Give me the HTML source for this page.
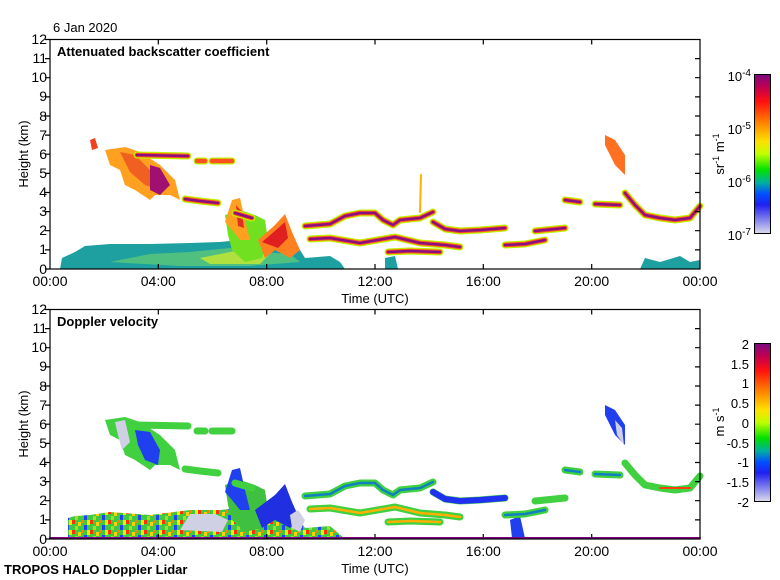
<!DOCTYPE html>
<html><head><meta charset="utf-8"><style>
body{margin:0;background:#fff}
svg{display:block;font-family:"Liberation Sans",sans-serif}
</style></head><body>
<svg width="780" height="580" viewBox="0 0 780 580" xmlns="http://www.w3.org/2000/svg">
<defs>
<linearGradient id="cb1" x1="0" y1="0" x2="0" y2="1">
<stop offset="0" stop-color="#7a0a80"/><stop offset="0.08" stop-color="#c00050"/><stop offset="0.17" stop-color="#ff1010"/>
<stop offset="0.3" stop-color="#ff8000"/><stop offset="0.42" stop-color="#ffe000"/><stop offset="0.5" stop-color="#c0ff00"/>
<stop offset="0.6" stop-color="#00e000"/><stop offset="0.68" stop-color="#00b0a0"/><stop offset="0.75" stop-color="#0050ff"/>
<stop offset="0.82" stop-color="#2020f0"/><stop offset="1" stop-color="#dcdcec"/></linearGradient>
<pattern id="spk" width="18" height="10" patternUnits="userSpaceOnUse">
<rect width="18" height="10" fill="#40c840"/><rect x="0" y="0" width="3" height="4" fill="#ff3000"/>
<rect x="6" y="2" width="3" height="4" fill="#ffd000"/><rect x="12" y="5" width="3" height="5" fill="#2040ff"/>
<rect x="3" y="6" width="3" height="4" fill="#a0e020"/><rect x="9" y="0" width="3" height="3" fill="#ff8000"/>
<rect x="15" y="0" width="3" height="5" fill="#f0f000"/></pattern>
<path id="L1" d="M137,155 L188,156"/>
<path id="L2" d="M185,199 L200,201 L218,203"/>
<path id="L3" d="M235,213 L252,218"/>
<path id="L4" d="M310,239 L330,238 L360,243 L395,237 L420,243 L445,245 L460,247"/>
<path id="L5" d="M305,226 L330,224 L345,216 L360,213 L375,213 L383,220 L393,225 L400,220 L420,218 L433,212"/>
<path id="L6" d="M433,222 L445,229 L460,231 L480,230 L505,228"/>
<path id="L7" d="M388,252 L410,251 L440,252"/>
<path id="L8" d="M505,245 L525,244 L545,240"/>
<path id="L9" d="M535,231 L565,228"/>
<path id="L10" d="M565,200 L580,202 M595,204 L620,205"/>
<path id="L11" d="M625,193 L635,205 L645,215 L660,218 L675,220 L690,218 L700,206"/>
<path id="L12" d="M197,161 L205,161 M212,161 L232,161"/>
</defs>

<text x="53" y="32" font-size="13">6 Jan 2020</text>

<!-- TOP PANEL DATA -->
<g fill="none" stroke-linejoin="round" stroke-linecap="round">
<polygon points="60,269 62,258 75,252 85,246 110,244 150,244 190,243 220,242 240,240 270,243 290,246 300,250 305,258 330,256 340,262 345,269" fill="#1ea0a0" stroke="none"/>
<polygon points="110,262 150,254 190,252 230,248 260,252 290,254 300,262 250,266 180,266" fill="#50c080" stroke="none"/>
<polygon points="200,258 240,250 270,254 260,264 210,264" fill="#b0e040" stroke="none"/>
<polygon points="225,215 240,210 255,215 265,220 268,240 262,258 245,262 232,250 228,235" fill="#70e020" stroke="none"/>
<polygon points="258,240 275,225 285,214 292,232 300,250 290,258 275,250 265,258" fill="#ff8020" stroke="none"/>
<polygon points="262,242 276,230 285,222 288,238 278,248" fill="#e02020" stroke="none"/>
<polygon points="232,200 240,198 245,220 250,240 240,240 232,230 225,222" fill="#ffa020" stroke="none"/>
<polygon points="236,205 242,212 244,228 238,226" fill="#e03020" stroke="none"/>
<polygon points="105,150 125,147 140,152 160,165 175,180 180,200 170,195 155,195 150,200 135,190 125,185 120,170 110,165" fill="#ffa020" stroke="none"/>
<polygon points="120,152 135,155 150,170 165,180 160,190 145,185 130,172" fill="#f06020" stroke="none"/>
<polygon points="150,165 160,168 170,185 160,195 150,190" fill="#a01070" stroke="none"/>
<polygon points="90,140 95,138 98,148 92,150" fill="#f04020" stroke="none"/>
<polygon points="605,135 615,140 625,155 625,175 615,165 605,145" fill="#ff7020" stroke="none"/>
<polygon points="385,258 395,256 398,269 385,269" fill="#1ea0a0" stroke="none"/>
<polygon points="640,269 645,258 660,262 680,256 690,262 700,260 700,269" fill="#1ea0a0" stroke="none"/>
<g stroke="#c0f000" stroke-width="7"><use href="#L1"/><use href="#L2"/><use href="#L3"/><use href="#L4"/><use href="#L5"/><use href="#L6"/><use href="#L7"/><use href="#L8"/><use href="#L9"/><use href="#L10"/><use href="#L11"/><use href="#L12"/></g>
<g stroke="#ff5020" stroke-width="4.5"><use href="#L1"/><use href="#L2"/><use href="#L3"/><use href="#L4"/><use href="#L5"/><use href="#L6"/><use href="#L7"/><use href="#L8"/><use href="#L9"/><use href="#L10"/><use href="#L11"/><use href="#L12"/></g>
<g stroke="#8a1080" stroke-width="2.5"><use href="#L1"/><use href="#L2"/><use href="#L3"/><use href="#L4"/><use href="#L5"/><use href="#L6"/><use href="#L7"/><use href="#L8"/><use href="#L9"/><use href="#L10"/><use href="#L11"/></g>
<path d="M420,212 L421,175" stroke="#ffb000" stroke-width="2"/>
</g>

<!-- BOTTOM PANEL DATA -->
<g transform="translate(0,270)" fill="none" stroke-linejoin="round" stroke-linecap="round">
<polygon points="68,269 68,248 75,246 90,245 110,242 150,245 190,240 220,240 240,238 270,240 290,245 300,250 305,258 330,256 345,269" fill="url(#spk)" stroke="none"/>
<polygon points="180,260 190,244 215,244 228,250 222,262" fill="#d0d0e4" stroke="none"/>
<polygon points="225,215 240,210 255,215 265,220 268,240 262,258 245,262 232,250 228,235" fill="#40c040" stroke="none"/>
<polygon points="255,240 275,225 285,214 292,232 300,250 290,258 275,250 262,258" fill="#2030e0" stroke="none"/>
<polygon points="290,245 298,240 305,250 300,262 292,258" fill="#d0d0e4" stroke="none"/>
<polygon points="232,200 240,198 245,220 250,240 240,240 232,230 225,222" fill="#2040f0" stroke="none"/>
<polygon points="105,150 125,147 140,152 160,165 175,180 180,200 170,195 155,195 150,200 135,190 125,185 120,170 110,165" fill="#40d040" stroke="none"/>
<polygon points="115,152 125,150 130,172 122,180 118,165" fill="#d0d0e4" stroke="none"/>
<polygon points="135,160 150,162 160,180 158,195 145,190 138,175" fill="#2040f0" stroke="none"/>
<polygon points="605,135 615,140 625,155 625,175 615,165 605,145" fill="#2040f0" stroke="none"/>
<polygon points="615,150 622,158 624,175 617,165" fill="#d0d0e4" stroke="none"/>
<polygon points="510,250 520,246 525,268 512,268" fill="#2040f0" stroke="none"/>
<g stroke="#40d040" stroke-width="7"><use href="#L1"/><use href="#L2"/><use href="#L3"/><use href="#L4"/><use href="#L5"/><use href="#L6"/><use href="#L7"/><use href="#L8"/><use href="#L9"/><use href="#L10"/><use href="#L11"/><use href="#L12"/></g>
<g stroke="#1080c0" stroke-width="2.5"><use href="#L5"/><use href="#L8"/><use href="#L10"/></g>
<g stroke="#ffb000" stroke-width="2.5"><use href="#L4"/><use href="#L7"/></g>
<g stroke="#2030f0" stroke-width="6"><use href="#L6"/></g>
<g stroke="#ff4010" stroke-width="2"><path d="M660,218 L690,218"/></g>
<path d="M50,268 L700,268" stroke="#800080" stroke-width="2"/>
</g>

<!-- AXES -->
<g stroke="#000" stroke-width="1.2" fill="none">
<rect x="50" y="39.5" width="650" height="229.5"/>
<rect x="50" y="309.5" width="650" height="229.5"/>
<path id="tk" d="M50,39.5h-5M50,58.6h-5M50,77.7h-5M50,96.9h-5M50,116h-5M50,135.1h-5M50,154.2h-5M50,173.4h-5M50,192.5h-5M50,211.6h-5M50,230.7h-5M50,249.9h-5M50,269h-5
M700,58.6h-5M700,77.7h-5M700,96.9h-5M700,116h-5M700,135.1h-5M700,154.2h-5M700,173.4h-5M700,192.5h-5M700,211.6h-5M700,230.7h-5M700,249.9h-5
M158.3,269v-5M266.7,269v-5M375,269v-5M483.3,269v-5M591.7,269v-5M158.3,39.5v5M266.7,39.5v5M375,39.5v5M483.3,39.5v5M591.7,39.5v5"/>
<use href="#tk" y="270"/>
</g>
<g font-size="14" text-anchor="end" id="yl">
<text x="47" y="44">12</text><text x="47" y="63">11</text><text x="47" y="82">10</text><text x="47" y="101">9</text>
<text x="47" y="121">8</text><text x="47" y="140">7</text><text x="47" y="159">6</text><text x="47" y="178">5</text>
<text x="47" y="197">4</text><text x="47" y="216">3</text><text x="47" y="235">2</text><text x="47" y="254">1</text><text x="47" y="274">0</text>
</g>
<use href="#yl" y="270"/>
<g font-size="14" text-anchor="middle" id="xl">
<text x="50" y="286">00:00</text><text x="158.3" y="286">04:00</text><text x="266.7" y="286">08:00</text>
<text x="375" y="286">12:00</text><text x="483.3" y="286">16:00</text><text x="591.7" y="286">20:00</text><text x="700" y="286">00:00</text>
<text x="375" y="303" font-size="13">Time (UTC)</text>
</g>
<use href="#xl" y="270"/>
<text transform="translate(28,154) rotate(-90)" font-size="13" text-anchor="middle">Height (km)</text>
<text transform="translate(28,424) rotate(-90)" font-size="13" text-anchor="middle">Height (km)</text>
<text x="57" y="56" font-size="13" font-weight="bold">Attenuated backscatter coefficient</text>
<text x="57" y="326" font-size="13" font-weight="bold">Doppler velocity</text>
<text x="4" y="574" font-size="13" font-weight="bold">TROPOS HALO Doppler Lidar</text>

<!-- COLORBARS -->
<rect x="754.5" y="74.5" width="16" height="159" fill="url(#cb1)" stroke="#000"/>
<rect x="754.5" y="343.5" width="16" height="158" fill="url(#cb1)" stroke="#000"/>
<g font-size="13" text-anchor="end">
<text x="751" y="81">10<tspan dy="-5" font-size="10">-4</tspan></text>
<text x="751" y="134">10<tspan dy="-5" font-size="10">-5</tspan></text>
<text x="751" y="187">10<tspan dy="-5" font-size="10">-6</tspan></text>
<text x="751" y="240">10<tspan dy="-5" font-size="10">-7</tspan></text>
<text x="749" y="349">2</text><text x="749" y="369">1.5</text><text x="749" y="388">1</text><text x="749" y="408">0.5</text>
<text x="749" y="428">0</text><text x="749" y="448">-0.5</text><text x="749" y="467">-1</text><text x="749" y="487">-1.5</text><text x="749" y="507">-2</text>
</g>
<text transform="translate(724,154) rotate(-90)" font-size="13" text-anchor="middle">sr<tspan dy="-5" font-size="9">-1</tspan><tspan dy="5"> m</tspan><tspan dy="-5" font-size="9">-1</tspan></text>
<text transform="translate(724,422) rotate(-90)" font-size="13" text-anchor="middle">m s<tspan dy="-5" font-size="9">-1</tspan></text>
</svg>
</body></html>
